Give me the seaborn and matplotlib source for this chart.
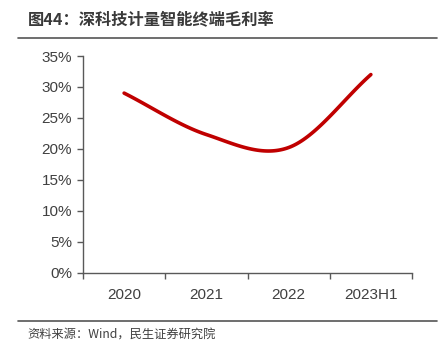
import numpy as np
import pandas as pd
import matplotlib
matplotlib.use('Agg')
import matplotlib.pyplot as plt
import seaborn as sns
from matplotlib.lines import Line2D

# data
categories = ['2020', '2021', '2022', '2023H1']
margin = [29.0, 22.3, 20.2, 32.0]  # %

title = '图44：深科技计量智能终端毛利率'
source = '资料来源：Wind，民生证券研究院'

sns.set_theme(style='ticks')
plt.rcParams['font.family'] = ['Liberation Sans', 'Noto Sans CJK SC', 'DejaVu Sans']


def smooth_curve(y, n=40):
    # Catmull-Rom style smoothing between the category points (like Excel's smoothed line)
    y = np.asarray(y, dtype=float)
    x = np.arange(len(y), dtype=float)
    xs, ys = [], []
    for i in range(len(y) - 1):
        p0 = y[i - 1] if i > 0 else y[i]
        p3 = y[i + 2] if i + 2 < len(y) else y[i + 1]
        p1, p2 = y[i], y[i + 1]
        m1 = (p2 - p0) / (2 if i > 0 else 1)
        m2 = (p3 - p1) / (2 if i + 2 < len(y) else 1)
        t = np.linspace(0, 1, n, endpoint=(i == len(y) - 2))
        h00 = 2 * t**3 - 3 * t**2 + 1
        h10 = t**3 - 2 * t**2 + t
        h01 = -2 * t**3 + 3 * t**2
        h11 = t**3 - t**2
        xs.append(x[i] + t)
        ys.append(h00 * p1 + h10 * m1 + h01 * p2 + h11 * m2)
    return np.concatenate(xs), np.concatenate(ys)


sx, sy = smooth_curve(margin)
df = pd.DataFrame({'x': sx, 'y': sy})

fig = plt.figure(figsize=(4.48, 3.55), dpi=100)
ax = fig.add_axes([83 / 448, 1 - 272.5 / 355, (412 - 83) / 448, (272.5 - 56) / 355])

sns.lineplot(data=df, x='x', y='y', ax=ax, color='#C00000', linewidth=2.6,
             solid_capstyle='round', legend=False)

ax.set_xlim(-0.5, len(categories) - 0.5)
ax.set_ylim(0, 35)
ax.set_yticks(np.arange(0, 36, 5))
ax.set_yticklabels([f'{v}%' for v in range(0, 36, 5)])
ax.set_xticks(np.arange(-0.5, len(categories), 1))
ax.set_xticklabels([])
ax.set_xticks(np.arange(len(categories)), minor=True)
ax.set_xticklabels(categories, minor=True)
ax.tick_params(axis='x', which='minor', length=0, pad=11, labelsize=11, labelcolor='#404040')
ax.tick_params(axis='x', which='major', length=4, width=1, color='#595959')
ax.tick_params(axis='y', length=4, width=1, color='#595959', labelsize=11,
               labelcolor='#404040', pad=4)
ax.set_xlabel('')
ax.set_ylabel('')
for s in ['top', 'right']:
    ax.spines[s].set_visible(False)
for s in ['left', 'bottom']:
    ax.spines[s].set_color('#595959')
    ax.spines[s].set_linewidth(1)

# title, rules and source note
fig.text(28 / 448, 1 - 20 / 355, title, fontsize=11.7, fontweight='bold', color='#3a3a3a',
         va='center', ha='left', family=['Noto Sans CJK SC', 'DejaVu Sans'])
fig.add_artist(Line2D([18 / 448, 437 / 448], [1 - 38 / 355, 1 - 38 / 355],
                      color='#555555', linewidth=1.2, transform=fig.transFigure))
fig.add_artist(Line2D([18 / 448, 437 / 448], [1 - 321 / 355, 1 - 321 / 355],
                      color='#555555', linewidth=1.2, transform=fig.transFigure))
fig.text(27 / 448, 1 - 335 / 355, source, fontsize=8.8, color='#404040',
         va='center', ha='left', family=['Noto Sans CJK SC', 'DejaVu Sans'])

fig.savefig('out.png', dpi=100)
